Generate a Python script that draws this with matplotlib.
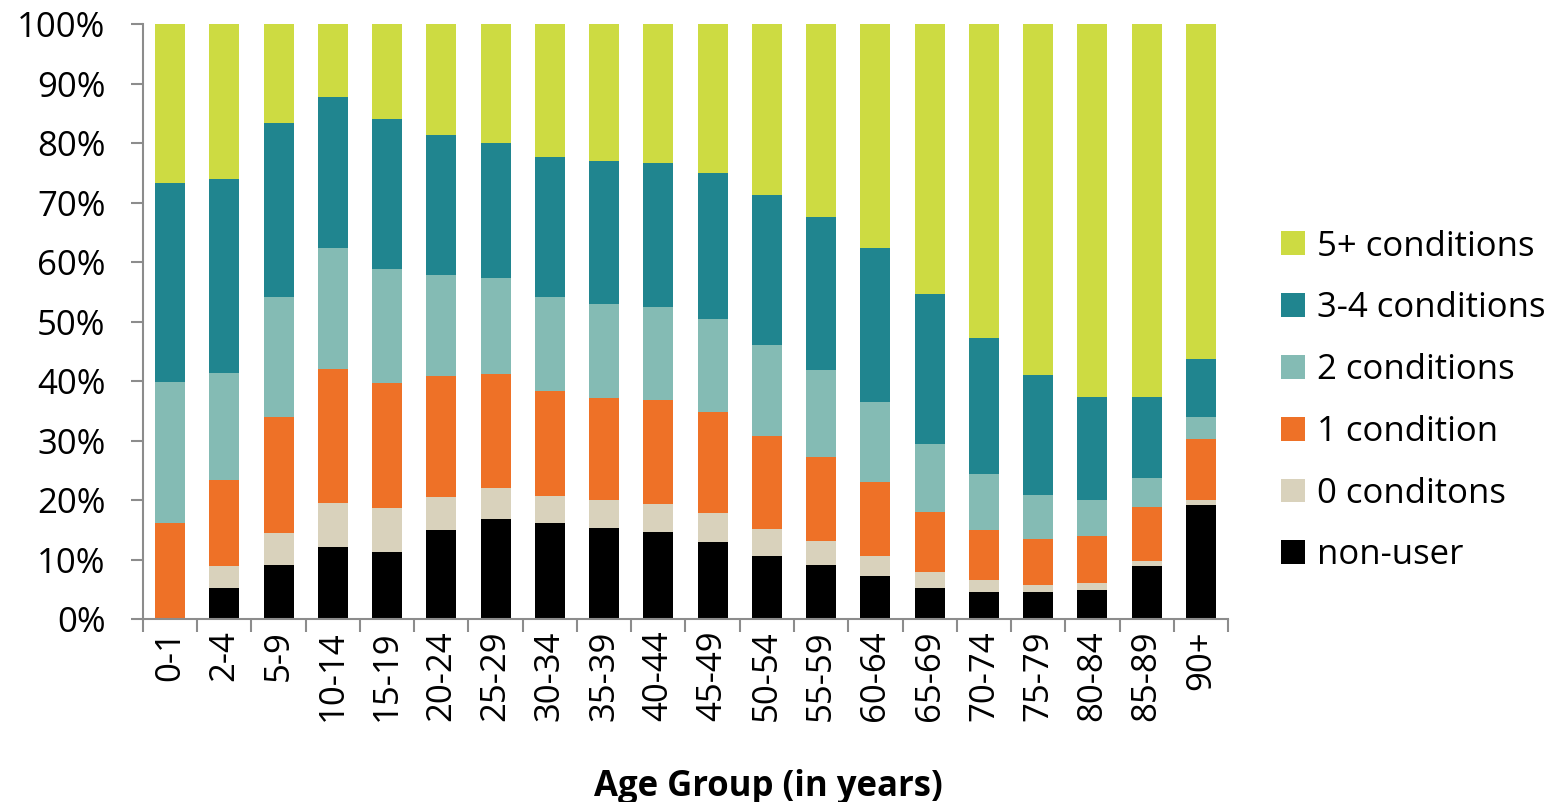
import numpy as np
import matplotlib
matplotlib.use("Agg")
import matplotlib.pyplot as plt
from matplotlib.ticker import PercentFormatter

# ---------------------------------------------------------------------
# Données (en %)
# ---------------------------------------------------------------------
AGE_GROUPS = ["0-1", "2-4", "5-9", "10-14", "15-19", "20-24", "25-29",
              "30-34", "35-39", "40-44", "45-49", "50-54", "55-59",
              "60-64", "65-69", "70-74", "75-79", "80-84", "85-89", "90+"]

NON_USER = [0.0, 5.3, 9.1, 12.1, 11.2, 15.0, 16.9, 16.1, 15.4, 14.6,
            12.9, 10.6, 9.1, 7.2, 5.2, 4.6, 4.5, 4.9, 8.9, 19.2]
ZERO_COND = [0.0, 3.6, 5.3, 7.5, 7.4, 5.6, 5.2, 4.6, 4.6, 4.8,
             5.0, 4.6, 4.0, 3.4, 2.7, 2.0, 1.3, 1.1, 0.9, 0.9]
ONE_COND = [16.2, 14.5, 19.5, 22.5, 21.1, 20.2, 19.1, 17.7, 17.2, 17.4,
            16.9, 15.6, 14.2, 12.5, 10.1, 8.3, 7.6, 8.0, 9.0, 10.2]
TWO_COND = [23.7, 18.0, 20.3, 20.3, 19.2, 17.0, 16.2, 15.8, 15.8, 15.7,
            15.7, 15.3, 14.5, 13.4, 11.5, 9.5, 7.5, 6.1, 5.0, 3.6]
THREE_FOUR = [33.4, 32.5, 29.2, 25.4, 25.1, 23.5, 22.6, 23.4, 24.0, 24.1,
              24.4, 25.1, 25.7, 25.9, 25.1, 22.9, 20.1, 17.3, 13.6, 9.8]
FIVE_PLUS = [26.7, 26.1, 16.6, 12.2, 16.0, 18.7, 20.0, 22.4, 23.0, 23.4,
             25.1, 28.8, 32.5, 37.6, 45.4, 52.7, 59.0, 62.6, 62.6, 56.3]

SERIES = [
    ("non-user",       NON_USER,   "#000000"),
    ("0 conditons",    ZERO_COND,  "#D9D2BC"),
    ("1 condition",    ONE_COND,   "#EE7127"),
    ("2 conditions",   TWO_COND,   "#84BBB4"),
    ("3-4 conditions", THREE_FOUR, "#20858F"),
    ("5+ conditions",  FIVE_PLUS,  "#CDDB42"),
]

plt.rcParams["font.family"] = ["Open Sans", "DejaVu Sans"]

fig = plt.figure(figsize=(15.59, 8.02), dpi=100)
ax = fig.add_axes([0.0917, 0.228, 0.696, 0.742])

x = np.arange(len(AGE_GROUPS))
bottom = np.zeros(len(AGE_GROUPS))
handles = []
for label, vals, color in SERIES:
    vals = np.array(vals)
    h = ax.bar(x, vals, width=0.55, bottom=bottom, color=color,
               label=label, linewidth=0)
    handles.append(h)
    bottom += vals

ax.set_xlim(-0.5, len(AGE_GROUPS) - 0.5)
ax.set_ylim(0, 100)
ax.set_yticks(np.arange(0, 101, 10))
ax.yaxis.set_major_formatter(PercentFormatter(decimals=0))

ax.set_xticks(x)
ax.set_xticklabels(AGE_GROUPS, rotation=90)
ax.set_xticks(np.arange(-0.5, len(AGE_GROUPS)), minor=True)
ax.tick_params(axis="x", which="major", length=0, pad=8, labelsize=25)
ax.tick_params(axis="x", which="minor", length=9, width=1.5, color="#8C8C8C")
ax.tick_params(axis="y", length=9, width=1.5, color="#8C8C8C", labelsize=25, pad=18)

for side in ("top", "right"):
    ax.spines[side].set_visible(False)
for side in ("left", "bottom"):
    ax.spines[side].set_color("#8C8C8C")
    ax.spines[side].set_linewidth(1.5)

ax.set_xlabel("Age Group (in years)", fontsize=25, fontweight="bold")
ax.xaxis.set_label_coords(0.576, -0.252)

# Légende : ordre inversé (5+ en haut)
fig.legend(handles[::-1], [s[0] for s in SERIES][::-1],
           loc="center left", bbox_to_anchor=(0.822, 0.50),
           frameon=False, fontsize=25, handlelength=0.68, handleheight=0.68,
           handletextpad=0.35, labelspacing=0.8, borderaxespad=0,
           borderpad=0)

fig.savefig("out.png", dpi=100)
